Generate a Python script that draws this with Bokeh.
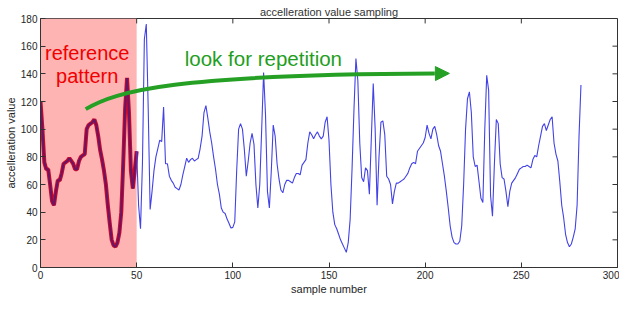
from bokeh.plotting import figure
from bokeh.models import (Range1d, FixedTicker, BoxAnnotation, Label, Arrow, NormalHead)
from bokeh.embed import file_html
from bokeh.resources import INLINE

# ---------------- data ----------------
ref_start = 0
ref_values = [120, 100, 76, 71, 71, 60, 48, 45, 55, 63,
              63, 68, 75, 76, 77, 79, 77, 75, 71, 71,
              77, 80, 81, 82, 100, 103, 104, 105, 107, 103,
              95, 85, 78, 70, 60, 45, 32, 20, 16, 15,
              18, 25, 40, 75, 115, 137, 112, 70, 57, 70,
              84]

sig_start = 50
sig_values = [84, 45, 28, 75, 165, 176, 115, 42, 55, 70,
              80, 86, 92, 91, 116, 75, 75, 66, 63, 61,
              58, 57, 56, 60, 67, 73, 79, 76, 78, 79,
              77, 78, 79, 86, 95, 112, 117, 108, 98, 90,
              80, 71, 60, 53, 43, 40, 39, 35, 32, 28.5,
              29, 33, 70, 100, 104, 100, 85, 66, 77, 90,
              97, 89, 60, 43, 60, 100, 141, 110, 55, 43,
              70, 103, 95, 75, 64, 56, 54, 60, 63, 63,
              62, 61, 65, 68, 68, 67, 74, 76, 78, 90,
              98, 96, 93, 96, 98, 95, 93, 95, 105, 109,
              92, 60, 40, 31, 28, 24, 20, 17, 14, 11,
              18, 35, 72, 115, 151, 135, 90, 65, 62, 72,
              70, 53, 93, 133, 100, 45, 80, 105, 106, 96,
              66, 64, 60, 46, 55, 61, 61, 62, 63, 64,
              66, 68, 72, 75, 76, 75, 84, 86, 88, 90,
              94, 103, 97, 93, 100, 102, 96, 88, 84, 75,
              66, 55, 43, 30, 22, 18, 17, 17, 19, 30,
              60, 100, 122, 127, 112, 80, 73, 74, 62, 50,
              47, 100, 139, 128, 52, 37, 75, 107, 104, 75,
              65, 64, 55, 44, 55, 61, 63, 65, 68, 71,
              72, 73, 73, 74, 73, 72, 78, 81, 80, 88,
              95, 102, 104, 99, 103, 107, 109, 90, 82, 77,
              62, 45, 36, 24, 18, 15, 17, 22, 28, 45,
              95, 132]

x_ticks = [0, 50, 100, 150, 200, 250, 300]
y_ticks = [0, 20, 40, 60, 80, 100, 120, 140, 160, 180]

title_text = "accelleration value sampling"
x_label = "sample number"
y_label = "accelleration value"
ref_label = ["reference", "pattern"]
look_label = "look for repetition"

ref_end = sig_start
arrow_curve = dict(x0=23.5, y0=114.5, cx0=40, cy0=128, cx1=70, cy1=139.5, x1=205, y1=140.2)
arrow_tip = (212.6, 140.3)

# ---------------- figure ----------------
FONT = "Liberation Sans"
X0, X1, Y0, Y1 = 0, 300, 0, 180
W, H = 619, 297
BL, BR, BT, BB = 40, 2, 18, 27
frame_w, frame_h = W - BL - BR, H - BT - BB

ref_x = list(range(ref_start, ref_start + len(ref_values)))
sig_x = list(range(sig_start, sig_start + len(sig_values)))
all_x = ref_x + sig_x[1:]
all_y = ref_values + sig_values[1:]

p = figure(width=W, height=H, output_backend="svg", toolbar_location=None,
           x_range=Range1d(X0, X1), y_range=Range1d(Y0, Y1),
           min_border_left=BL, min_border_right=BR, min_border_top=BT, min_border_bottom=BB)
p.background_fill_color = "white"
p.border_fill_color = "white"
p.grid.visible = False
p.outline_line_color = "#333333"
p.outline_line_width = 1

p.title.text = title_text
p.title.align = "center"
p.title.text_font = FONT
p.title.text_font_size = "11px"
p.title.text_font_style = "normal"
p.title.text_color = "#333333"
p.title.standoff = 1

for ax, ticks, lab in ((p.xaxis[0], x_ticks, x_label), (p.yaxis[0], y_ticks, y_label)):
    ax.ticker = FixedTicker(ticks=ticks)
    ax.minor_tick_line_color = None
    ax.major_tick_in = 5
    ax.major_tick_out = 0
    ax.major_tick_line_color = "#333333"
    ax.axis_line_color = "#333333"
    ax.major_label_text_font = FONT
    ax.major_label_text_font_size = "10px"
    ax.major_label_text_color = "#262626"
    ax.major_label_standoff = 3
    ax.axis_label = lab
    ax.axis_label_text_font = FONT
    ax.axis_label_text_font_size = "11px"
    ax.axis_label_text_font_style = "normal"
    ax.axis_label_text_color = "#262626"
    ax.axis_label_standoff = 1

# inward ticks on the top and right sides of the box (5 px long)
tick_dx = 5 * (X1 - X0) / frame_w
tick_dy = 5 * (Y1 - Y0) / frame_h
p.segment(x0=x_ticks, y0=[Y1] * len(x_ticks), x1=x_ticks, y1=[Y1 - tick_dy] * len(x_ticks),
          line_color="#333333", line_width=1)
p.segment(x0=[X1] * len(y_ticks), y0=y_ticks, x1=[X1 - tick_dx] * len(y_ticks), y1=y_ticks,
          line_color="#333333", line_width=1)

# reference window
p.add_layout(BoxAnnotation(left=ref_start, right=ref_end, fill_color="#ffb4b4",
                           fill_alpha=1.0, line_color=None, level="underlay"))

# reference pattern (thick dark red) and signal (thin blue)
p.line(ref_x, ref_values, line_color="#cc0a2a", line_width=4)
p.line(ref_x, ref_values, line_color="#6a1466", line_width=2)
p.line(sig_x, sig_values, line_color="#4242e6", line_width=1.1)

# green arrow
GREEN = "#25a025"
p.bezier(line_color=GREEN, line_width=4, **arrow_curve)
p.add_layout(Arrow(end=NormalHead(size=14, fill_color=GREEN, line_color=GREEN),
                   x_start=arrow_curve["x1"], y_start=arrow_curve["y1"],
                   x_end=arrow_tip[0], y_end=arrow_tip[1],
                   line_color=GREEN, line_width=3))

# annotation texts
p.add_layout(Label(x=24.3, y=155.1, text=ref_label[0], text_font=FONT, text_font_size="20px",
                   text_color="#f00000", text_align="center", text_baseline="alphabetic"))
p.add_layout(Label(x=24.3, y=138.2, text=ref_label[1], text_font=FONT, text_font_size="20px",
                   text_color="#f00000", text_align="center", text_baseline="alphabetic"))
p.add_layout(Label(x=75, y=150.8, text=look_label, text_font=FONT, text_font_size="20.5px",
                   text_color="#1f9e1f", text_align="left", text_baseline="alphabetic"))

open("out.html", "w").write(file_html(p, INLINE))
